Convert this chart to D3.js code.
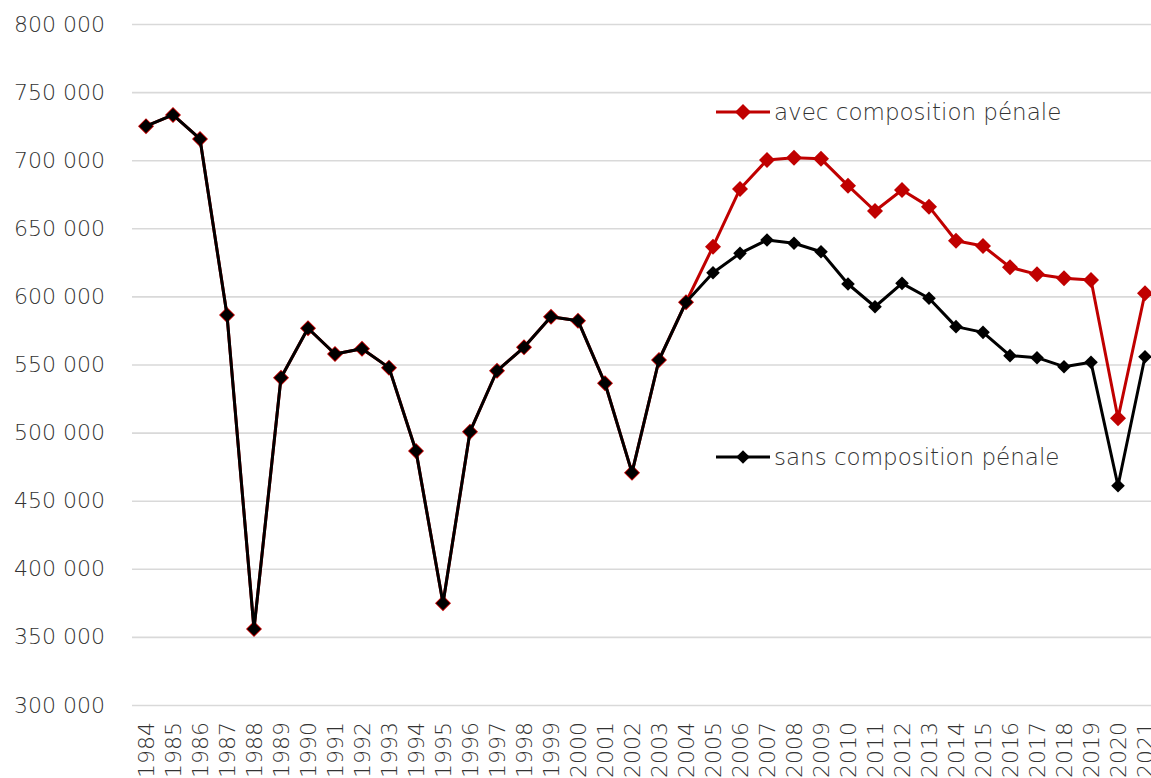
<!DOCTYPE html>
<html><head><meta charset="utf-8">
<script src="https://cdn.jsdelivr.net/npm/d3@7"></script>
<style>
body{margin:0;background:#fff;}
svg{display:block;}
svg text{font-family:"DejaVu Sans",sans-serif;font-weight:200;}
</style></head>
<body><svg id="c" width="1151" height="778"></svg>
<script>
const years = d3.range(1984, 2022).map(String);
const sansComposition = [725000,733200,715600,586300,355800,540300,576600,557700,561600,547700,486500,374700,500700,545400,562600,585100,582200,536200,470600,553300,595700,617400,631600,641400,639000,632800,609100,592400,609600,598600,577800,573600,556500,555000,548400,551600,461000,555700];
const avecComposition = [725000,733200,715600,586300,355800,540300,576600,557700,561600,547700,486500,374700,500700,545400,562600,585100,582200,536200,470600,553300,595700,636500,678900,700100,701800,701000,681300,662700,678100,665900,640900,637000,621400,616200,613300,612000,510500,602300];
const yTicks = [300000,350000,400000,450000,500000,550000,600000,650000,700000,750000,800000];
const seriesNames = ["avec composition pénale","sans composition pénale"];

const svg = d3.select("#c");
const x = d3.scaleBand().domain(years).range([132.5, 132.5 + 27*years.length]).paddingInner(0).paddingOuter(0);
const y = d3.scaleLinear().domain([300000, 800000]).range([705, 24]);
const fmt = d3.formatLocale({decimal:",", thousands:" ", grouping:[3], currency:["","€"]}).format(",d");
const textColor = "#333333";

// grid + y axis
const gy = svg.append("g").attr("transform","translate(132,0)")
  .call(d3.axisLeft(y).tickValues(yTicks).tickSize(-1100).tickPadding(27).tickFormat(fmt));
gy.attr("font-family",null).attr("font-size",null);
gy.select(".domain").remove();
gy.selectAll(".tick line").attr("stroke","#d9d9d9").attr("stroke-width",1.6);
gy.selectAll(".tick text").attr("fill",textColor).style("font-size","22px");

// x axis
const gx = svg.append("g").attr("transform","translate(0,705)")
  .call(d3.axisBottom(x).tickSize(0).tickPadding(0));
gx.attr("font-family",null).attr("font-size",null);
gx.select(".domain").remove();
gx.selectAll(".tick text")
  .attr("fill",textColor).style("font-size","22px")
  .attr("text-anchor","end").attr("transform","translate(0,17) rotate(-90)").attr("dy","0.36em").attr("y",0);

const line = d3.line().x((d,i)=>x(years[i])+x.bandwidth()/2).y(d=>y(d));

function drawSeries(data, color, lw, half){
  svg.append("path").datum(data).attr("d", line).attr("fill","none").attr("stroke",color).attr("stroke-width",lw).attr("stroke-linejoin","round");
  svg.append("g").selectAll("path").data(data).join("path")
    .attr("d", d3.symbol().type(d3.symbolSquare).size(half*half*2))
    .attr("transform",(d,i)=>`translate(${x(years[i])+x.bandwidth()/2},${y(d)}) rotate(45)`)
    .attr("fill",color);
}
drawSeries(avecComposition, "#c00000", 3, 8);
drawSeries(sansComposition, "#000000", 3, 6.8);

// legend
const legend = [{name:seriesNames[0], color:"#c00000", half:8, ly:112},{name:seriesNames[1], color:"#000000", half:6.8, ly:457}];
legend.forEach(l=>{
  const g = svg.append("g");
  g.append("line").attr("x1",716).attr("x2",770).attr("y1",l.ly).attr("y2",l.ly).attr("stroke",l.color).attr("stroke-width",3);
  g.append("path").attr("d", d3.symbol().type(d3.symbolSquare).size(l.half*l.half*2)).attr("transform",`translate(743,${l.ly}) rotate(45)`).attr("fill",l.color);
  g.append("text").attr("x",774).attr("y",l.ly).attr("dy","0.35em").attr("fill",textColor).style("font-size","23px").text(l.name);
});
</script></body></html>
